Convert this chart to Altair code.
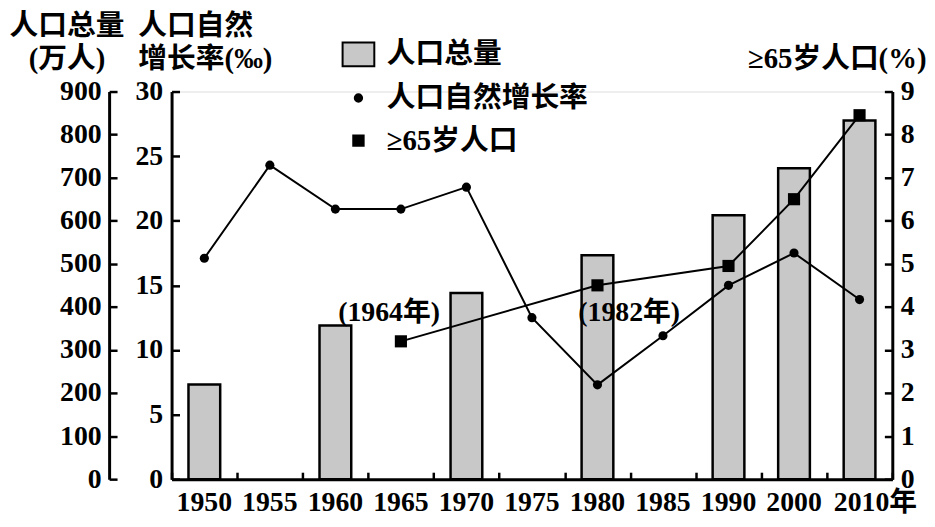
import altair as alt
import pandas as pd

# ---- data ----
years = ["1950", "1955", "1960", "1965", "1970", "1975", "1980", "1985", "1990", "2000", "2010"]
pop_years = ["1950", "1960", "1970", "1980", "1990", "2000", "2010"]
pop_values = [220, 357, 432, 520, 613, 722, 833]
rate_values = [17.1, 24.3, 20.9, 20.9, 22.6, 12.5, 7.3, 11.1, 15.0, 17.5, 13.9]
elder_years = ["1965", "1980", "1990", "2000", "2010"]
elder_values = [3.2, 4.5, 4.95, 6.5, 8.45]
elder_notes = ["(1964年)", "(1982年)", "", "", ""]
legend_names = ["人口总量", "人口自然增长率", "≥65岁人口"]
pop_ticks = [0, 100, 200, 300, 400, 500, 600, 700, 800, 900]
rate_ticks = [0, 5, 10, 15, 20, 25, 30]
elder_ticks = [0, 1, 2, 3, 4, 5, 6, 7, 8, 9]

FONT = "Liberation Serif, Noto Sans CJK SC"
FS = 28
TFS = 29
W, H = 727, 391
OUT = 63  # offset of the outer left axis

pop_df = pd.DataFrame({"year": pop_years, "pop": pop_values})
rate_df = pd.DataFrame({"year": years, "rate": rate_values})
elder_df = pd.DataFrame({"year": elder_years, "elder": elder_values, "note": elder_notes})
legend_df = pd.DataFrame({"series": legend_names})

xscale = alt.Scale(type="band", domain=years, paddingInner=0, paddingOuter=0)

common_label = dict(labelFont=FONT, labelFontSize=FS, labelFontWeight="bold",
                    labelColor="black", grid=False)

x_label_axis = alt.Axis(
    orient="bottom", title=None, ticks=False, tickSize=0, domain=True, domainWidth=3,
    domainColor="black", labelPadding=10, labelAngle=0, labelOverlap=False,
    labelExpr="datum.value == '2010' ? '2010年' : datum.value",
    labelOffset={"condition": {"test": "datum.value == '2010'", "value": 16}, "value": 0},
    **common_label,
)
x_tick_axis = alt.Axis(
    orient="top", offset=-H, title=None, labels=False, domain=False, ticks=True,
    tickSize=7, tickWidth=2.5, tickColor="black", tickBand="extent", grid=False,
)

title_common = dict(titleFont=FONT, titleFontSize=TFS, titleFontWeight="bold",
                    titleColor="black", titleAngle=0, titleBaseline="top", titleLineHeight=34)

pop_label_axis = alt.Axis(
    orient="left", offset=OUT, values=pop_ticks, ticks=False, tickSize=0, domain=True,
    domainWidth=3, domainColor="black", labelPadding=8,
    title=["人口总量", "(万人)"], titleAlign="center", titleX=-43, titleY=-81,
    **title_common, **common_label,
)
pop_tick_axis = alt.Axis(
    orient="right", offset=-(W + OUT), values=pop_ticks, labels=False, domain=False,
    tickSize=8, tickWidth=2.5, tickColor="black", title=None, grid=False,
)
rate_label_axis = alt.Axis(
    orient="left", offset=0, values=rate_ticks, ticks=False, tickSize=0, domain=True,
    domainWidth=3, domainColor="black", labelPadding=9,
    title=["人口自然", "增长率(‰)"], titleAlign="left", titleX=-34, titleY=-81,
    **title_common, **common_label,
)
rate_tick_axis = alt.Axis(
    orient="right", offset=-W, values=rate_ticks, labels=False, domain=False,
    tickSize=8, tickWidth=2.5, tickColor="black", title=None, grid=False,
)
elder_label_axis = alt.Axis(
    orient="right", offset=0, values=elder_ticks, ticks=False, tickSize=0, domain=True,
    domainWidth=3, domainColor="black", labelPadding=8,
    title="≥65岁人口(%)", titleAlign="right", titleX=34, titleY=-47,
    **title_common, **common_label,
)
elder_tick_axis = alt.Axis(
    orient="left", offset=-W, values=elder_ticks, labels=False, domain=False,
    tickSize=8, tickWidth=2.5, tickColor="black", title=None, grid=False,
)


def ys(field, dom, axis):
    return alt.Y(f"{field}:Q", scale=alt.Scale(domain=dom, nice=False, zero=True), axis=axis)


bars = alt.Chart(pop_df).mark_bar(size=32, color="#c8c8c8").encode(
    x=alt.X("year:N", scale=xscale, axis=x_label_axis),
    y=ys("pop", [0, 900], pop_label_axis),
)
bar_outline = alt.Chart(pop_df).mark_bar(
    size=32, filled=False, color="black", strokeWidth=2.5, fillOpacity=0
).encode(
    x=alt.X("year:N", scale=xscale, axis=None),
    y=ys("pop", [0, 900], None),
)
pop_ticks_layer = alt.Chart(pop_df).mark_point(opacity=0).encode(
    x=alt.X("year:N", scale=xscale, axis=x_tick_axis),
    y=ys("pop", [0, 900], pop_tick_axis),
)
rate_line = alt.Chart(rate_df).mark_line(color="black", strokeWidth=2).encode(
    x=alt.X("year:N", scale=xscale, axis=None),
    y=ys("rate", [0, 30], rate_label_axis),
)
rate_pts = alt.Chart(rate_df).mark_circle(size=85, color="black", opacity=1).encode(
    x=alt.X("year:N", scale=xscale, axis=None),
    y=ys("rate", [0, 30], rate_tick_axis),
)
elder_line = alt.Chart(elder_df).mark_line(color="black", strokeWidth=2).encode(
    x=alt.X("year:N", scale=xscale, axis=None),
    y=ys("elder", [0, 9], elder_label_axis),
)
elder_pts = alt.Chart(elder_df).mark_square(size=150, color="black", opacity=1).encode(
    x=alt.X("year:N", scale=xscale, axis=None),
    y=ys("elder", [0, 9], elder_tick_axis),
)
note1 = alt.Chart(elder_df).transform_filter(alt.datum.note == "(1964年)").mark_text(
    font=FONT, fontSize=FS, fontWeight="bold", color="black", dx=-12, dy=-29
).encode(
    x=alt.X("year:N", scale=xscale, axis=None),
    y=ys("elder", [0, 9], None),
    text="note:N",
)
note2 = alt.Chart(elder_df).transform_filter(alt.datum.note == "(1982年)").mark_text(
    font=FONT, fontSize=FS, fontWeight="bold", color="black", dx=32, dy=28
).encode(
    x=alt.X("year:N", scale=xscale, axis=None),
    y=ys("elder", [0, 9], None),
    text="note:N",
)

leg = alt.Legend(
    title=None, orient="none", legendX=174, legendY=-52, direction="vertical",
    labelFont=FONT, labelFontSize=29, labelFontWeight="bold", labelColor="black",
    labelOffset=14, rowPadding=13,
    symbolStrokeWidth=2, symbolOpacity=1, padding=0, labelLimit=400,
)
rect_path = "M-1.333,-1L1.333,-1L1.333,1L-1.333,1Z"
legend_layer = alt.Chart(legend_df).mark_point(filled=True, opacity=0, strokeWidth=2).encode(
    fill=alt.Fill("series:N", scale=alt.Scale(domain=legend_names, range=["#c8c8c8", "black", "black"]), legend=leg),
    stroke=alt.Stroke("series:N", scale=alt.Scale(domain=legend_names, range=["black", "black", "black"]), legend=leg),
    shape=alt.Shape("series:N", scale=alt.Scale(domain=legend_names, range=[rect_path, "circle", "square"]), legend=leg),
    size=alt.Size("series:N", scale=alt.Scale(type="ordinal", domain=legend_names, range=[576, 55, 110]), legend=leg),
)

chart = alt.layer(
    bars, bar_outline, pop_ticks_layer, rate_line, rate_pts, elder_line, elder_pts,
    note1, note2, legend_layer
).resolve_scale(y="independent").resolve_axis(x="independent", y="independent").properties(
    width=W, height=H,
    autosize=alt.AutoSizeParams(type="none"),
    padding={"left": 165, "top": 82, "right": 35, "bottom": 46},
).configure_view(stroke="transparent").configure(background="white")

chart.save("out.html", embed_options={"renderer": "svg", "actions": False})
